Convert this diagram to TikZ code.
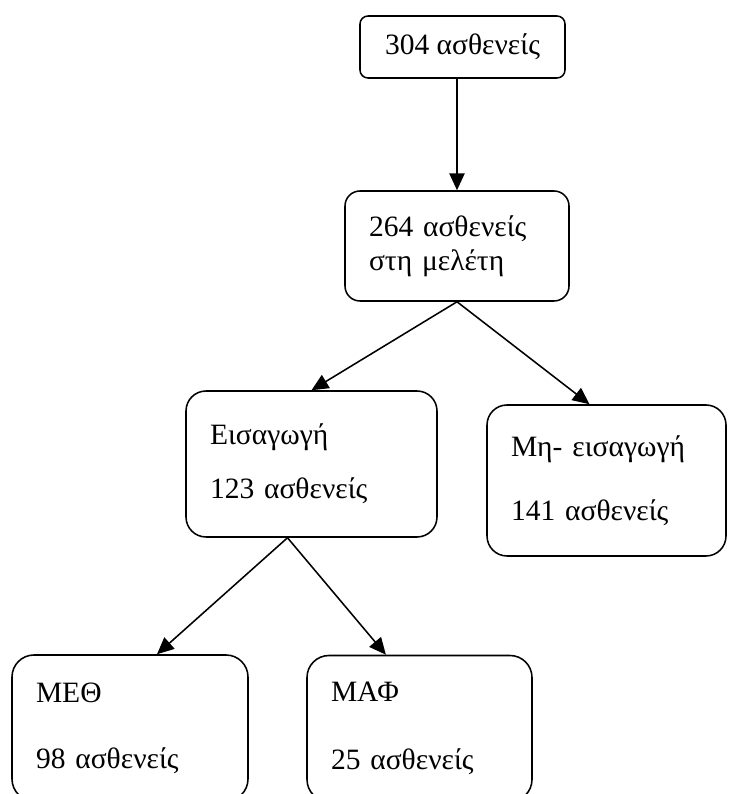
\documentclass[tikz,border=0pt]{standalone}
\usepackage{fontspec}
\setmainfont{Liberation Serif}
\usetikzlibrary{arrows.meta}

\begin{document}
\begin{tikzpicture}[
    group/.style={rectangle, draw=black, line width=1.1pt, inner xsep=0.6cm, inner ysep=0pt, align=left, font=\fontsize{21}{24}\selectfont},
    arrow/.style={line width=1.1pt,-{Triangle[length=0.42cm,width=0.38cm]}}
]
\clip (0,0) rectangle (18.2,19.85);

% Patient groups
\node[group, rounded corners=0.2cm, minimum width=5.125cm, minimum height=1.55cm] (total) at (11.5625,18.675) {304 ασθενείς};
\node[group, rounded corners=0.375cm, text width=4.4cm, minimum height=2.75cm] (study) at (11.425,13.7) {264 ασθενείς\\στη μελέτη};
\node[group, rounded corners=0.5cm, text width=5.075cm, minimum height=3.65cm] (admit) at (7.7875,8.25) {Εισαγωγή\\[0.5cm]123 ασθενείς};
\node[group, rounded corners=0.5cm, text width=4.775cm, minimum height=3.775cm] (noadmit) at (15.1625,7.8375) {Μη- εισαγωγή\\[0.75cm]141 ασθενείς};
\node[group, rounded corners=0.55cm, text width=4.7cm, minimum height=3.65cm] (icu) at (3.25,1.65) {ΜΕΘ\\[0.8cm]98 ασθενείς};
\node[group, rounded corners=0.55cm, text width=4.425cm, minimum height=3.65cm] (mau) at (10.4875,1.6375) {ΜΑΦ\\[0.85cm]25 ασθενείς};

% Arrows between groups
\draw[arrow] (study.north |- total.south) -- (study.north);
\draw[arrow] (study.south) -- (admit.north);
\draw[arrow] (study.south) -- ([xshift=-0.425cm]noadmit.north);
\coordinate (split) at ([xshift=-0.6cm]admit.south);
\draw[arrow] (split) -- ([xshift=0.675cm]icu.north);
\draw[arrow] (split) -- ([xshift=-0.84cm]mau.north);

\end{tikzpicture}
\end{document}
